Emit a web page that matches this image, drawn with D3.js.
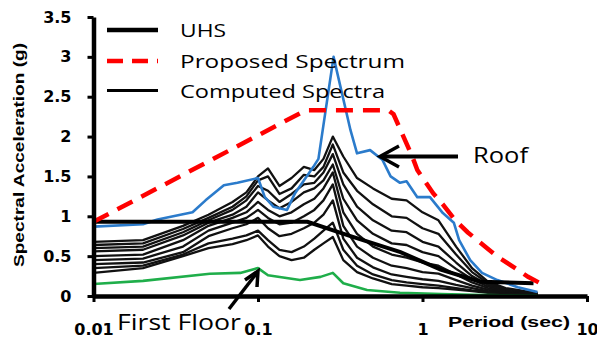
<!DOCTYPE html>
<html>
<head>
<meta charset="utf-8">
<script src="https://cdn.jsdelivr.net/npm/d3@7"></script>
<style>
  body { margin: 0; background: #fff; }
  svg { display: block; }
</style>
</head>
<body>
<div class="container"></div>
<script>
// periods (sec) shared by the computed floor spectra
const periods = [0.01, 0.02, 0.035, 0.05, 0.07, 0.085, 0.1, 0.115, 0.135, 0.16, 0.19, 0.22, 0.25, 0.285,
                 0.33, 0.4, 0.5, 0.65, 0.8, 1.0, 1.25, 1.6, 2.0, 2.5, 3.2, 4.2, 5.0]

// computed spectra, intermediate floors (g)
const computed = [
  [0.68,0.70,0.88,1.02,1.18,1.30,1.50,1.60,1.38,1.48,1.62,1.58,1.72,2.00,1.75,1.48,1.35,1.22,1.20,1.05,0.95,0.62,0.35,0.18,0.10,0.06,0.04],
  [0.64,0.66,0.84,0.98,1.12,1.25,1.45,1.50,1.28,1.35,1.52,1.50,1.62,1.90,1.55,1.32,1.15,1.00,0.98,0.85,0.78,0.52,0.30,0.16,0.09,0.05,0.03],
  [0.60,0.62,0.80,0.95,1.08,1.20,1.38,1.32,1.18,1.28,1.40,1.42,1.55,1.78,1.40,1.12,0.95,0.82,0.80,0.68,0.62,0.42,0.25,0.14,0.08,0.05,0.03],
  [0.56,0.58,0.76,0.92,1.02,1.12,1.30,1.20,1.10,1.18,1.30,1.35,1.45,1.65,1.22,0.95,0.78,0.66,0.64,0.55,0.50,0.34,0.21,0.12,0.07,0.04,0.02],
  [0.50,0.52,0.70,0.88,0.98,1.05,1.18,1.08,1.00,1.05,1.15,1.22,1.35,1.55,1.05,0.78,0.62,0.52,0.48,0.42,0.38,0.27,0.17,0.10,0.06,0.03,0.02],
  [0.45,0.47,0.62,0.82,0.92,0.98,1.08,0.98,0.90,0.92,1.00,1.08,1.20,1.40,0.88,0.62,0.48,0.38,0.35,0.30,0.28,0.20,0.13,0.08,0.05,0.03,0.02],
  [0.40,0.42,0.55,0.75,0.85,0.90,0.98,0.85,0.75,0.78,0.85,0.92,1.02,1.20,0.72,0.48,0.36,0.27,0.24,0.21,0.19,0.14,0.10,0.06,0.04,0.02,0.01],
  [0.35,0.38,0.52,0.66,0.72,0.76,0.82,0.70,0.58,0.55,0.62,0.72,0.82,0.92,0.58,0.38,0.27,0.20,0.17,0.15,0.13,0.10,0.07,0.05,0.03,0.02,0.01],
  [0.29,0.35,0.50,0.60,0.65,0.70,0.76,0.62,0.50,0.45,0.48,0.58,0.66,0.74,0.45,0.30,0.22,0.15,0.13,0.11,0.10,0.08,0.06,0.04,0.03,0.02,0.01]
]

// roof (blue)
const roofT  = [0.01,0.02,0.0245,0.04,0.048,0.062,0.075,0.1,0.11,0.124,0.15,0.168,0.217,0.233,0.288,0.365,0.4,0.48,0.57,0.64,0.73,0.8,0.93,1.11,1.33,1.55,1.67,1.95,2.3,2.85,3.8,5.0]
const roofSa = [0.87,0.90,0.96,1.05,1.20,1.39,1.42,1.48,1.24,1.12,1.08,1.29,1.62,1.72,3.00,2.08,1.79,1.83,1.71,1.50,1.42,1.44,1.24,1.24,1.04,0.92,0.70,0.45,0.29,0.20,0.11,0.05]

// first floor (green)
const firstT  = [0.01,0.02,0.051,0.078,0.1,0.115,0.18,0.24,0.285,0.33,0.46,0.73,1.3,2,3,5]
const firstSa = [0.15,0.19,0.28,0.29,0.35,0.26,0.20,0.24,0.29,0.16,0.075,0.04,0.025,0.015,0.01,0.005]

// UHS (thick black)
const uhsT  = [0.01,0.2,0.365,0.735,1.29,2.25,4.73]
const uhsSa = [0.93,0.93,0.75,0.55,0.33,0.18,0.16]

// proposed spectrum (red dashed)
const propT  = [0.01,0.195,0.62,0.667,0.766,0.87,0.93,1.16,1.34,1.58,1.88,2.47,2.87,3.66,4.38,5.2]
const propSa = [0.93,2.33,2.33,2.28,2.00,1.74,1.58,1.29,1.14,0.95,0.80,0.60,0.49,0.35,0.24,0.16]

const yTicks = [0, 0.5, 1, 1.5, 2, 2.5, 3, 3.5]
const xTicks = [0.01, 0.1, 1, 10]

const W = 597, H = 339
const svg = d3.select('.container').append('svg')
  .attr('width', W).attr('height', H)

const x = d3.scaleLog().domain([0.01, 10]).range([93.5, 587])
const y = d3.scaleLinear().domain([0, 3.5]).range([296, 17])

const line = d3.line().x(d => x(d[0])).y(d => y(d[1]))
const zip = (ts, vs) => ts.map((t, i) => [t, vs[i]])

// computed spectra
svg.append('g').selectAll('path')
  .data(computed)
  .enter().append('path')
  .attr('d', d => line(zip(periods, d)))
  .attr('fill', 'none')
  .attr('stroke', '#111')
  .attr('stroke-width', 2.3)
  .attr('stroke-linejoin', 'round')

svg.append('path')
  .attr('d', line(zip(roofT, roofSa)))
  .attr('fill', 'none').attr('stroke', '#2b7bcb').attr('stroke-width', 2.6)
  .attr('stroke-linejoin', 'round')

svg.append('path')
  .attr('d', line(zip(firstT, firstSa)))
  .attr('fill', 'none').attr('stroke', '#1fae4a').attr('stroke-width', 2.6)
  .attr('stroke-linejoin', 'round')

svg.append('path')
  .attr('d', line(zip(uhsT, uhsSa)))
  .attr('fill', 'none').attr('stroke', '#000').attr('stroke-width', 4)

svg.append('path')
  .attr('d', line(zip(propT, propSa)))
  .attr('fill', 'none').attr('stroke', '#ff0000').attr('stroke-width', 4.5)
  .attr('stroke-dasharray', '17,10')

// axes
const yAxis = svg.append('g')
  .attr('transform', `translate(${x(0.01)},0)`)
  .call(d3.axisLeft(y).tickValues(yTicks).tickFormat(d => d).tickSize(6).tickSizeOuter(0).tickPadding(16))
yAxis.select('.domain').attr('stroke', '#000').attr('stroke-width', 4.5)
yAxis.selectAll('.tick line').attr('stroke', '#000').attr('stroke-width', 3)
yAxis.selectAll('.tick text')
  .style('font-family', 'DejaVu Sans').style('font-weight', 'bold').style('font-size', '16px')
  .attr('fill', '#000')

const xAxis = svg.append('g')
  .attr('transform', `translate(0,${y(0)})`)
  .call(d3.axisBottom(x).tickValues(xTicks).tickFormat(d => d).tickSize(6).tickSizeOuter(0).tickPadding(22))
xAxis.select('.domain').attr('stroke', '#000').attr('stroke-width', 4.5)
xAxis.selectAll('.tick line').attr('stroke', '#000').attr('stroke-width', 3)
xAxis.selectAll('.tick text')
  .style('font-family', 'DejaVu Sans').style('font-weight', 'bold').style('font-size', '16px')
  .attr('fill', '#000')

// axis titles
svg.append('text')
  .attr('transform', 'translate(24,155) rotate(-90)')
  .attr('text-anchor', 'middle')
  .attr('textLength', 224).attr('lengthAdjust', 'spacingAndGlyphs')
  .style('font-family', 'Liberation Sans').style('font-weight', 'bold').style('font-size', '15px')
  .text('Spectral Acceleration (g)')

svg.append('text')
  .attr('x', 448).attr('y', 327)
  .attr('textLength', 122).attr('lengthAdjust', 'spacingAndGlyphs')
  .style('font-family', 'Liberation Sans').style('font-weight', 'bold').style('font-size', '15px')
  .text('Period (sec)')

// legend
const legendItems = [
  { label: 'UHS', color: '#000', width: 4.5, dash: null, y: 30, len: 46 },
  { label: 'Proposed  Spectrum', color: '#ff0000', width: 4.5, dash: '16,9', y: 61, len: 225 },
  { label: 'Computed Spectra', color: '#000', width: 3, dash: null, y: 90.5, len: 205 }
]
const legend = svg.append('g').selectAll('g')
  .data(legendItems).enter().append('g')
legend.append('line')
  .attr('x1', 107).attr('x2', 158)
  .attr('y1', d => d.y).attr('y2', d => d.y)
  .attr('stroke', d => d.color).attr('stroke-width', d => d.width)
  .attr('stroke-dasharray', d => d.dash)
legend.append('text')
  .attr('x', 180).attr('y', d => d.y + 7)
  .attr('textLength', d => d.len).attr('lengthAdjust', 'spacingAndGlyphs')
  .style('font-family', 'Open Sans').style('font-size', '19px')
  .text(d => d.label)

// annotations
svg.append('text')
  .attr('x', 473).attr('y', 163)
  .attr('textLength', 55).attr('lengthAdjust', 'spacingAndGlyphs')
  .style('font-family', 'Open Sans').style('font-size', '21px')
  .text('Roof')
svg.append('line')
  .attr('x1', 458).attr('y1', 156.5).attr('x2', 382).attr('y2', 156.5)
  .attr('stroke', '#000').attr('stroke-width', 4)
svg.append('path')
  .attr('d', 'M399,146 L380,156.5 L399,167')
  .attr('fill', 'none').attr('stroke', '#000').attr('stroke-width', 3.5)

svg.append('text')
  .attr('x', 117).attr('y', 330)
  .attr('textLength', 124).attr('lengthAdjust', 'spacingAndGlyphs')
  .style('font-family', 'Open Sans').style('font-size', '21px')
  .text('First Floor')
svg.append('line')
  .attr('x1', 229).attr('y1', 309).attr('x2', 256).attr('y2', 274)
  .attr('stroke', '#000').attr('stroke-width', 3.5)
svg.append('path')
  .attr('d', 'M245,280 L258,271 L257,287')
  .attr('fill', 'none').attr('stroke', '#000').attr('stroke-width', 3.5)
</script>
</body>
</html>
